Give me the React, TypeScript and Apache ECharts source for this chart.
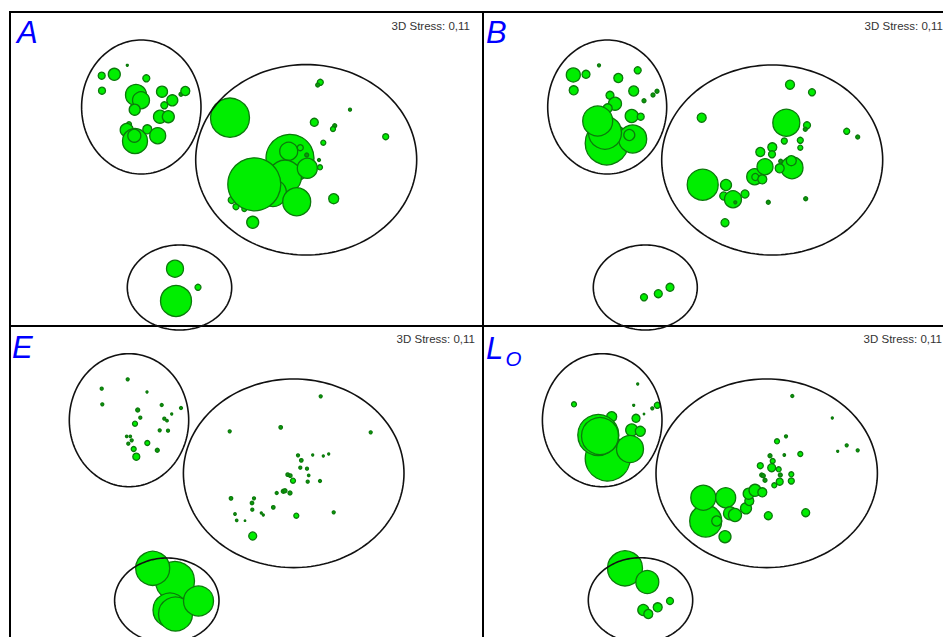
import React, { useEffect, useRef } from "react";
import * as echarts from "echarts";

// Points: [x, y, bubble diameter] in ordination-plot units (per panel, y downward)
const pointsA: number[][] = [
  [91.7, 63.7, 7], [104.3, 62.3, 12], [117.3, 53.3, 2], [136.3, 66.3, 7], [92, 78.7, 7],
  [126, 83, 21], [131, 88.3, 17], [124.7, 97.7, 11], [152, 79.7, 11], [162.3, 88.3, 11],
  [154.3, 93.3, 7], [171, 82.3, 4], [175.3, 79, 9], [150, 104.7, 13], [158.3, 104.7, 12],
  [119, 112.3, 5], [116.7, 118, 13], [125, 129, 25], [124.3, 123.7, 13], [137.3, 117.3, 9],
  [147.7, 123.7, 16],
  [220, 105.7, 39], [310.3, 70.3, 6], [307.7, 73, 4], [340, 97.7, 3], [304.3, 110.3, 8],
  [324.7, 113.7, 4], [323, 117, 5], [375.7, 124.7, 6], [313.3, 130.7, 5],
  [221.7, 188, 7], [226, 194.7, 6], [234.3, 197, 5],
  [280, 146.3, 48], [278.7, 139.3, 18], [290.3, 135.7, 6], [296.7, 143, 4], [309, 148, 3],
  [310, 155.3, 5], [275, 164.7, 33], [263, 181, 27], [244.3, 172.3, 53], [297.3, 156.3, 20],
  [286.7, 189.7, 28], [323.7, 186.7, 10], [242.7, 210.3, 12],
  [165, 256.7, 17], [166, 289, 31], [188, 275.3, 6],
];
const ellipsesA: number[][] = [
  [131.3, 95, 59.7, 67], [296.2, 147.8, 110.5, 95.2], [169.5, 275.5, 52.2, 42.5],
];

const pointsB: number[][] = [
  [90.3, 63, 14], [103, 62.3, 8], [116, 53.3, 3], [135.3, 66, 9], [154.7, 58.3, 7],
  [90.7, 78.3, 9], [150.7, 79, 10], [174, 79.3, 4], [170, 83, 4], [161, 88.7, 4],
  [127, 83.3, 8], [132, 91.7, 13], [124.7, 96.3, 9], [148.7, 104, 13], [157.7, 104.7, 7],
  [123.7, 131.3, 43], [149.7, 127, 28], [122, 120.7, 33], [114.7, 109, 30], [146.3, 123, 11],
  [307, 72.7, 9], [329, 80.3, 7], [218.7, 105.7, 9], [303.3, 110.7, 27], [324, 113.3, 7],
  [322.3, 117.3, 4], [363.7, 119.3, 6], [374.7, 125, 4], [301.3, 129, 6], [317.3, 128.3, 6],
  [317.3, 135.7, 5], [289.3, 135.3, 9], [289, 142.3, 7], [277.3, 140, 9], [297.7, 149.3, 4],
  [309, 155.7, 22], [308.3, 148.7, 10], [296.7, 156.3, 9], [271.7, 164.7, 16], [272.3, 165, 7],
  [279.3, 167.3, 9], [282, 154.7, 16], [219.7, 172.7, 31], [243, 173, 11], [240.7, 184, 8],
  [250, 187.3, 17], [252.3, 190.3, 3], [262, 182, 8], [285.3, 190.3, 4], [322.7, 186.7, 4],
  [242, 210.7, 8],
  [161, 285.3, 7], [175.3, 281.7, 8], [187, 275.3, 8],
];
const ellipsesB: number[][] = [
  [124.2, 95, 59.5, 67], [289.2, 148, 110.5, 95], [162.3, 275.5, 52, 42.5],
];

const pointsE: number[][] = [
  [117.7, 53.3, 3], [91.7, 62.7, 3], [92.3, 78.3, 3], [137, 66, 2], [127.7, 84, 4],
  [151.7, 79, 3], [171, 82, 3], [161.7, 88, 2], [130.3, 91.7, 3], [154.3, 92.7, 3],
  [157, 94.7, 2.5], [125, 97.7, 5], [149.7, 104.3, 3], [158, 104.7, 3], [116.7, 110.3, 2.5],
  [120.3, 110.3, 2.5], [121.7, 114.3, 3], [118.3, 117.7, 3], [137.3, 117, 5], [123.7, 123, 5],
  [147.3, 124.3, 4], [126.3, 130.7, 7],
  [310.7, 70.3, 3], [219.7, 105.3, 3], [270.7, 101.3, 3.5], [360.7, 106.3, 3], [288, 129.3, 3],
  [302.7, 129, 2], [313.3, 130, 2], [318.7, 128, 2], [291.3, 134.3, 3.5], [290.3, 141.7, 3],
  [297, 142.7, 3], [298.7, 149.3, 2.5], [277.7, 148.7, 3.5], [280.3, 149.7, 3.5], [283, 154.7, 5],
  [297.7, 155.7, 3], [310, 155, 3], [266.7, 167, 3], [273.3, 165.3, 4], [275, 164.7, 4],
  [280, 167, 4], [221, 172.3, 3.5], [244, 172.3, 3], [242, 177, 3.5], [242.3, 183.7, 3],
  [263.3, 181.3, 3.5], [251.3, 187, 2], [253.3, 189, 2], [286.3, 189.7, 5], [323.7, 186.3, 3],
  [225, 188, 2.5], [226.7, 194.3, 2.5], [235, 194.7, 1.5], [242.7, 210, 8],
  [165, 255, 39], [160, 284, 34], [165.5, 288, 34], [188.5, 275, 30], [142.7, 242.3, 34],
];
const ellipsesE: number[][] = [
  [119, 94.2, 59.7, 66.5], [283.7, 147.3, 110.3, 94.3], [156.8, 274.5, 52.2, 42.5],
];

const pointsL: number[][] = [
  [91, 78.3, 5], [154.7, 58, 2], [150.7, 79.3, 2], [161, 88, 1.5], [169.3, 82.3, 3],
  [174.3, 79.3, 6], [153, 92.3, 8], [128.7, 90.7, 10], [148.7, 104, 12], [157.3, 105.3, 10],
  [124.7, 132.5, 45], [147, 123, 27], [115.3, 109, 41], [117, 110, 37],
  [309.3, 70, 3], [349.3, 92, 2], [294, 115.3, 5], [303, 110.3, 3], [317.3, 128, 5],
  [301.3, 129, 2.5], [363.7, 119.3, 3], [354.7, 125.3, 2], [374.7, 124.3, 3], [287, 129.7, 4],
  [289.7, 135, 5], [277.3, 139.7, 6], [288.7, 141.7, 8], [295.7, 143.3, 5], [297.3, 149, 4],
  [308.3, 148.3, 5], [308.3, 155, 6], [296.7, 155.7, 7], [278.7, 149, 4], [280.3, 149.7, 4],
  [282, 154.3, 4], [291.3, 159.3, 5],
  [222.7, 195, 32], [220.3, 171.7, 25], [242.7, 171.7, 20], [233.7, 195, 10], [247, 187.3, 13],
  [252, 189, 13], [263, 182.3, 11], [266.3, 175, 9], [265.7, 167.7, 11], [272, 164.3, 12],
  [279.3, 166.3, 9], [242, 210.7, 12], [285.3, 189.7, 8], [322.7, 186.7, 8],
  [142, 242.3, 35], [164.3, 256, 23], [160.3, 284, 11], [165.3, 288, 9], [174.7, 281.3, 9],
  [187, 275, 7],
];
const ellipsesL: number[][] = [
  [119.2, 94.2, 59.8, 66.5], [283.7, 147.3, 110.7, 94.3], [157.5, 274.2, 52.2, 42.5],
];

const panelLabels = ["A", "B", "E", "L"];
const subscriptLabel = "O";
const stressLabel = "3D Stress: 0,11";

const PANEL_W = 473;
const PANEL_H = 314;

export default function App() {
  const ref = useRef<HTMLDivElement>(null);

  useEffect(() => {
    if (!ref.current) return;
    const chart = echarts.init(ref.current, undefined, { renderer: "svg" });

    const grids = [
      { left: 10, top: 12 },
      { left: 483, top: 12 },
      { left: 10, top: 326 },
      { left: 483, top: 326 },
    ];
    const pointSets = [pointsA, pointsB, pointsE, pointsL];
    const ellipseSets = [ellipsesA, ellipsesB, ellipsesE, ellipsesL];

    const series: any[] = [];
    pointSets.forEach((pts, i) => {
      series.push({
        type: "scatter",
        xAxisIndex: i,
        yAxisIndex: i,
        data: pts,
        clip: false,
        z: 2,
        symbol: "circle",
        symbolSize: (v: number[]) => v[2],
        itemStyle: {
          color: (p: any) => (p.value[2] <= 4 ? "#0a9a0a" : "#00ee00"),
          borderColor: "#0b7a0b",
          borderWidth: 1.3,
          opacity: 1,
        },
        emphasis: { disabled: true },
        silent: true,
      });
      series.push({
        type: "custom",
        xAxisIndex: i,
        yAxisIndex: i,
        data: ellipseSets[i],
        clip: false,
        z: 3,
        silent: true,
        encode: { x: 0, y: 1 },
        renderItem: (params: any, api: any) => {
          const cx = api.value(0);
          const cy = api.value(1);
          const rx = api.value(2);
          const ry = api.value(3);
          const c = api.coord([cx, cy]);
          const e = api.coord([cx + rx, cy + ry]);
          const prx = Math.abs(e[0] - c[0]);
          const pry = Math.abs(e[1] - c[1]);
          const points: number[][] = [];
          const n = 160;
          for (let k = 0; k <= n; k++) {
            const t = (k / n) * Math.PI * 2;
            points.push([c[0] + prx * Math.cos(t), c[1] + pry * Math.sin(t)]);
          }
          return {
            type: "polygon",
            shape: { points },
            style: { fill: "none", stroke: "#111", lineWidth: 1.6 },
          };
        },
      });
    });

    const font = '"Liberation Sans", Arial, sans-serif';
    const graphic: any[] = [
      { type: "text", x: 17, y: 32.6, style: { text: panelLabels[0], fill: "#0000ff", font: `italic 31px ${font}`, verticalAlign: "middle" } },
      { type: "text", x: 486, y: 32.6, style: { text: panelLabels[1], fill: "#0000ff", font: `italic 31px ${font}`, verticalAlign: "middle" } },
      { type: "text", x: 12, y: 347.6, style: { text: panelLabels[2], fill: "#0000ff", font: `italic 31px ${font}`, verticalAlign: "middle" } },
      { type: "text", x: 486, y: 348.6, style: { text: panelLabels[3], fill: "#0000ff", font: `italic 31px ${font}`, verticalAlign: "middle" } },
      { type: "text", x: 505.5, y: 358.2, style: { text: subscriptLabel, fill: "#0000ff", font: `italic 20.5px ${font}`, verticalAlign: "middle" } },
      { type: "text", x: 470, y: 26, style: { text: stressLabel, fill: "#333", font: `11.5px ${font}`, align: "right", verticalAlign: "middle" } },
      { type: "text", x: 943, y: 26, style: { text: stressLabel, fill: "#333", font: `11.5px ${font}`, align: "right", verticalAlign: "middle" } },
      { type: "text", x: 475, y: 338.7, style: { text: stressLabel, fill: "#333", font: `11.5px ${font}`, align: "right", verticalAlign: "middle" } },
      { type: "text", x: 942, y: 338.7, style: { text: stressLabel, fill: "#333", font: `11.5px ${font}`, align: "right", verticalAlign: "middle" } },
    ];

    chart.setOption({
      animation: false,
      backgroundColor: "#ffffff",
      grid: grids.map((g) => ({
        left: g.left,
        top: g.top,
        width: PANEL_W,
        height: PANEL_H,
        show: true,
        borderColor: "#000",
        borderWidth: 2,
        backgroundColor: "transparent",
        containLabel: false,
      })),
      xAxis: grids.map((_, i) => ({
        type: "value",
        gridIndex: i,
        min: 0,
        max: PANEL_W,
        show: false,
        splitLine: { show: false },
      })),
      yAxis: grids.map((_, i) => ({
        type: "value",
        gridIndex: i,
        min: 0,
        max: PANEL_H,
        inverse: true,
        show: false,
        splitLine: { show: false },
      })),
      series,
      graphic,
    });

    return () => {
      chart.dispose();
    };
  }, []);

  return (
    <div
      style={{
        position: "fixed",
        left: 0,
        top: 0,
        width: 943,
        height: 637,
        overflow: "hidden",
        background: "#fff",
      }}
    >
      <div ref={ref} style={{ width: 962, height: 662 }} />
    </div>
  );
}
